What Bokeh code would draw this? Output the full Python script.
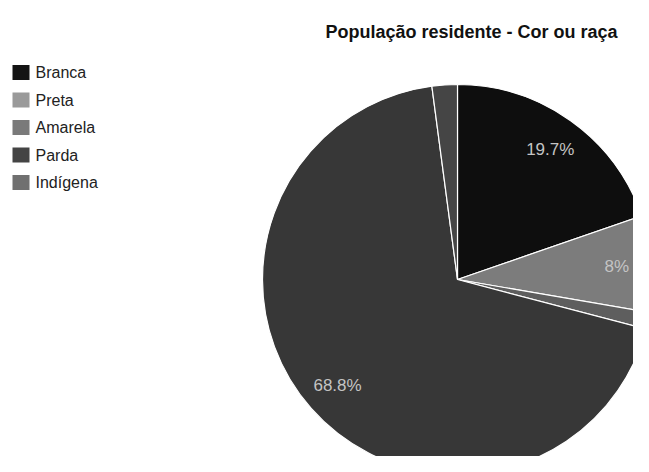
import math
from bokeh.plotting import figure
from bokeh.models import Range1d, ColumnDataSource
from bokeh.core.properties import value
from bokeh.embed import file_html
from bokeh.resources import INLINE

# ---- data ----
title_text = "População residente - Cor ou raça"
categories = ["Branca", "Preta", "Amarela", "Parda", "Indígena"]
percents = [19.7, 8.0, 1.4, 68.8, 2.1]
colors = ["#0e0e0e", "#7c7c7c", "#5e5e5e", "#373737", "#454545"]
legend_colors = ["#141414", "#9a9a9a", "#7a7a7a", "#444444", "#707070"]

W, H = 633, 456
p = figure(width=W, height=H, output_backend="svg", toolbar_location=None,
           x_range=Range1d(0, W), y_range=Range1d(0, H), min_border=0)
p.axis.visible = False
p.grid.visible = False
p.outline_line_color = None
p.background_fill_color = "white"
p.border_fill_color = "white"

cx, cy, R = 457, H - 279, 195
total = sum(percents)
starts, ends = [], []
cum = 0.0
for v in percents:
    a0 = math.pi / 2 - 2 * math.pi * cum / total
    cum += v
    a1 = math.pi / 2 - 2 * math.pi * cum / total
    starts.append(a0)
    ends.append(a1)

src = ColumnDataSource(dict(start=starts, end=ends, color=colors))
p.wedge(x=cx, y=cy, radius=R, start_angle="start", end_angle="end",
        direction="clock", fill_color="color", line_color="white",
        line_width=1.2, source=src)

# slice labels
lx, ly, lt = [], [], []
for v, a0, a1 in zip(percents, starts, ends):
    if v / total < 0.05:
        continue
    mid = (a0 + a1) / 2
    rr = 0.82 * R
    lx.append(cx + rr * math.cos(mid))
    ly.append(cy + rr * math.sin(mid))
    lt.append(f"{v:g}%")
p.text(x=lx, y=ly, text=lt, text_align="center", text_baseline="middle",
       text_font=value("Liberation Sans"), text_font_size=value("17px"),
       text_color="#c4c4c4")

# title
p.text(x=[471], y=[H - 31], text=[title_text], text_align="center",
       text_baseline="middle", text_font=value("Liberation Sans"),
       text_font_size=value("18px"), text_font_style="bold", text_color="#111111")

# legend
ys = [H - (72 + 27.5 * i) for i in range(len(categories))]
p.rect(x=[20.5] * len(categories), y=ys, width=17, height=15,
       fill_color=legend_colors, line_color=None)
p.text(x=[35] * len(categories), y=ys, text=categories, text_align="left",
       text_baseline="middle", text_font=value("Liberation Sans"),
       text_font_size=value("16px"), text_color="#222222")

open("out.html", "w").write(file_html(p, INLINE))
